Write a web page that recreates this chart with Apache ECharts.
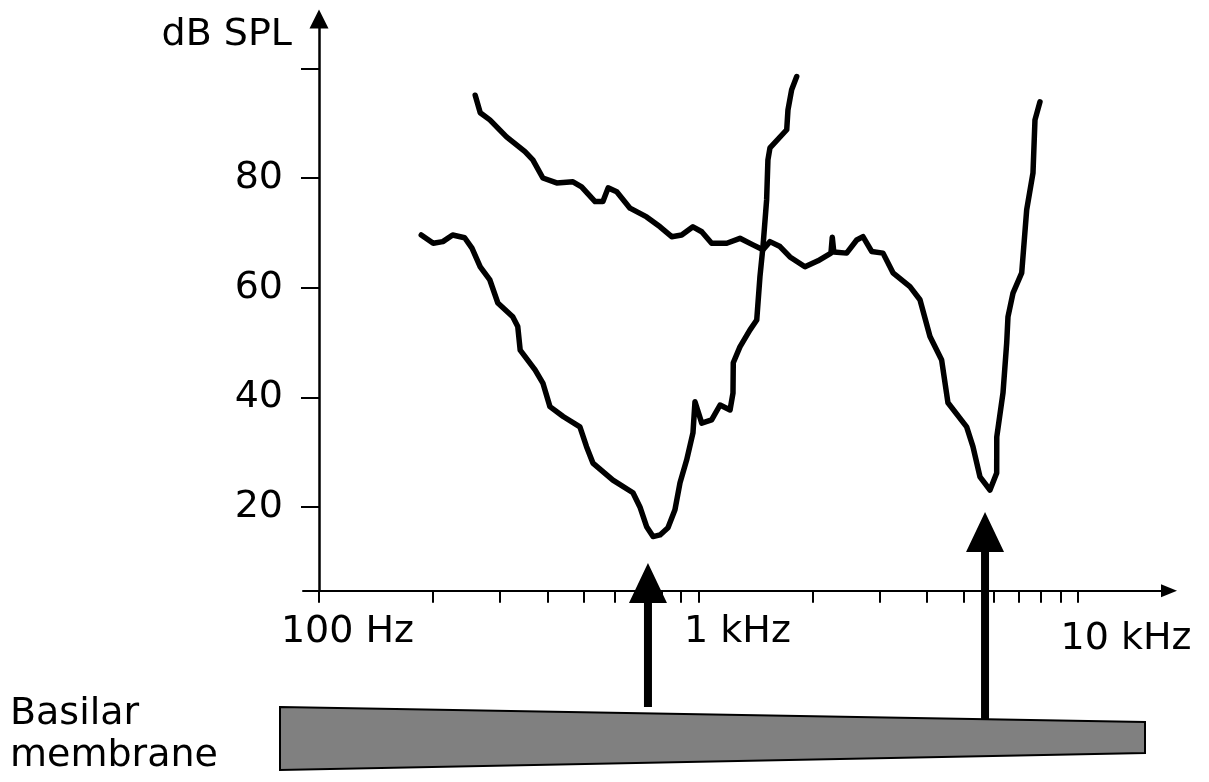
<!DOCTYPE html>
<html><head><meta charset="utf-8">
<script src="https://cdn.jsdelivr.net/npm/echarts@6/dist/echarts.min.js"></script>
<style>html,body{margin:0;padding:0;background:#fff}#c{width:1209px;height:782px}</style>
</head><body><div id="c"></div>
<script>
// Tuning curve of a low-CF fibre: [frequency Hz, threshold dB SPL]
const fiberLow = [[186,69.6],[200,68.1],[212,68.4],[225,69.6],[242,69.1],[253,67.2],[266,63.8],[282,61.4],[296,57.2],[324,54.7],[334,52.9],[339,48.6],[371,45.0],[389,42.6],[406,38.3],[440,36.5],[487,34.6],[507,31.0],[527,28.0],[595,24.9],[672,22.6],[701,20.0],[730,16.4],[759,14.6],[792,14.9],[831,16.2],[867,19.5],[894,24.4],[931,28.6],[967,33.5],[979,39.2],[1020,35.3],[1083,35.9],[1140,38.6],[1211,37.7],[1233,40.8],[1235,46.3],[1286,49.2],[1367,52.3],[1424,54.1],[1452,62.0],[1479,67.5],[1512,76.0],[1524,83.3],[1543,85.5],[1708,88.8],[1721,92.4],[1760,96.1],[1815,98.5]];
// Tuning curve of a high-CF fibre
const fiberHigh = [[258,95.1],[266,91.9],[282,90.6],[312,87.5],[349,84.8],[366,83.3],[389,80.0],[423,79.1],[467,79.3],[492,78.4],[534,75.7],[560,75.7],[578,78.2],[609,77.5],[660,74.5],[730,72.9],[792,71.1],[850,69.3],[903,69.6],[967,71.1],[1020,70.2],[1083,68.1],[1187,68.1],[1286,69.0],[1392,67.8],[1479,66.9],[1543,68.4],[1640,67.5],[1742,65.6],[1908,63.8],[2065,64.9],[2234,66.3],[2252,69.2],[2273,66.5],[2457,66.3],[2612,68.7],[2713,69.3],[2860,66.6],[3064,66.3],[3255,62.7],[3608,60.2],[3834,57.8],[4074,51.1],[4373,46.8],[4544,39.0],[5089,34.6],[5288,31.0],[5518,25.5],[5863,23.1],[6107,26.2],[6110,32.8],[6345,40.8],[6489,49.9],[6540,54.7],[6742,59.0],[7108,62.7],[7326,74.2],[7611,80.9],[7704,90.6],[7942,93.9]];

const xTickValues = [100,200,300,400,500,600,700,800,900,1000,2000,3000,4000,5000,6000,7000,8000,9000,10000];
const xLabelValues = [100,1000,10000];
const xLabelTexts = ['100 Hz','1 kHz','10 kHz'];
const yTickValues = [20,40,60,80,100];
const yLabelValues = [20,40,60,80];
const yAxisName = 'dB SPL';
const membraneText = 'Basilar\nmembrane';
// arrows from basilar membrane to the best frequencies
const arrowFreqs = [736, 5690];
const arrowTipDb = [9.8, 19.1];
const arrowBaseDb = [-16.5, -18.8];

const FONT = '"DejaVu Sans", Verdana, sans-serif';
const chart = echarts.init(document.getElementById('c'), null, {renderer:'canvas'});

const richKeys = ['a','b','c'];
chart.setOption({
  animation:false,
  backgroundColor:'#fff',
  grid:{left:303, right:40, top:19, bottom:191.3, containLabel:false},
  xAxis:{
    type:'log', logBase:10, min:90.75, max:17373,
    axisLine:{show:true, onZero:false, lineStyle:{color:'#000', width:2}, symbol:['none','triangle'], symbolSize:[13,16]},
    axisTick:{show:true, customValues:xTickValues, length:12, lineStyle:{color:'#000', width:2}},
    axisLabel:{
      customValues:xLabelValues, margin:22,
      formatter:function(v){
        const i = xLabelValues.indexOf(Math.round(v));
        return i < 0 ? '' : '{' + richKeys[i] + '|' + xLabelTexts[i] + '}';
      },
      rich:{
        a:{fontFamily:FONT, fontSize:38, color:'#000', padding:[0,0,0,57]},
        b:{fontFamily:FONT, fontSize:38, color:'#000', padding:[0,0,0,78]},
        c:{fontFamily:FONT, fontSize:38, color:'#000', padding:[7,0,0,96]}
      }
    },
    splitLine:{show:false}
  },
  yAxis:{
    type:'value', min:4.73, max:109, offset:-16,
    name:yAxisName, nameLocation:'end', nameGap:-16,
    nameTextStyle:{fontFamily:FONT, fontSize:38, color:'#000', align:'right', verticalAlign:'middle', padding:[0,27,0,0]},
    axisLine:{show:true, onZero:false, lineStyle:{color:'#000', width:2.5}, symbol:['none','triangle'], symbolSize:[19,19]},
    axisTick:{show:true, customValues:yTickValues, length:18, lineStyle:{color:'#000', width:2}},
    axisLabel:{customValues:yLabelValues, margin:36, fontFamily:FONT, fontSize:38, color:'#000'},
    splitLine:{show:false}
  },
  series:[
    {type:'line', data:fiberLow, showSymbol:false, silent:true, lineStyle:{color:'#000', width:5.5, join:'round', cap:'round'}},
    {type:'line', data:fiberHigh, showSymbol:false, silent:true, lineStyle:{color:'#000', width:5.5, join:'round', cap:'round'}}
  ]
});

const graphics = [];
graphics.push({
  type:'polygon', z:10,
  shape:{points:[[280,707],[1145,722],[1145,753],[280,770]]},
  style:{fill:'#808080', stroke:'#000', lineWidth:2}
});
for (let i = 0; i < arrowFreqs.length; i++) {
  const tip = chart.convertToPixel({gridIndex:0}, [arrowFreqs[i], arrowTipDb[i]]);
  const base = chart.convertToPixel({gridIndex:0}, [arrowFreqs[i], arrowBaseDb[i]]);
  const x = tip[0], yt = tip[1], yb = base[1];
  const headH = 40, headW = 19, shaftW = 4;
  graphics.push({
    type:'polygon', z:11,
    shape:{points:[[x,yt],[x+headW,yt+headH],[x+shaftW,yt+headH],[x+shaftW,yb],[x-shaftW,yb],[x-shaftW,yt+headH],[x-headW,yt+headH]]},
    style:{fill:'#000'}
  });
}
graphics.push({
  type:'text', left:10, top:693, z:12,
  style:{text:membraneText, font:'38px ' + FONT, fill:'#000', lineHeight:42}
});
chart.setOption({graphic:graphics});
</script></body></html>
